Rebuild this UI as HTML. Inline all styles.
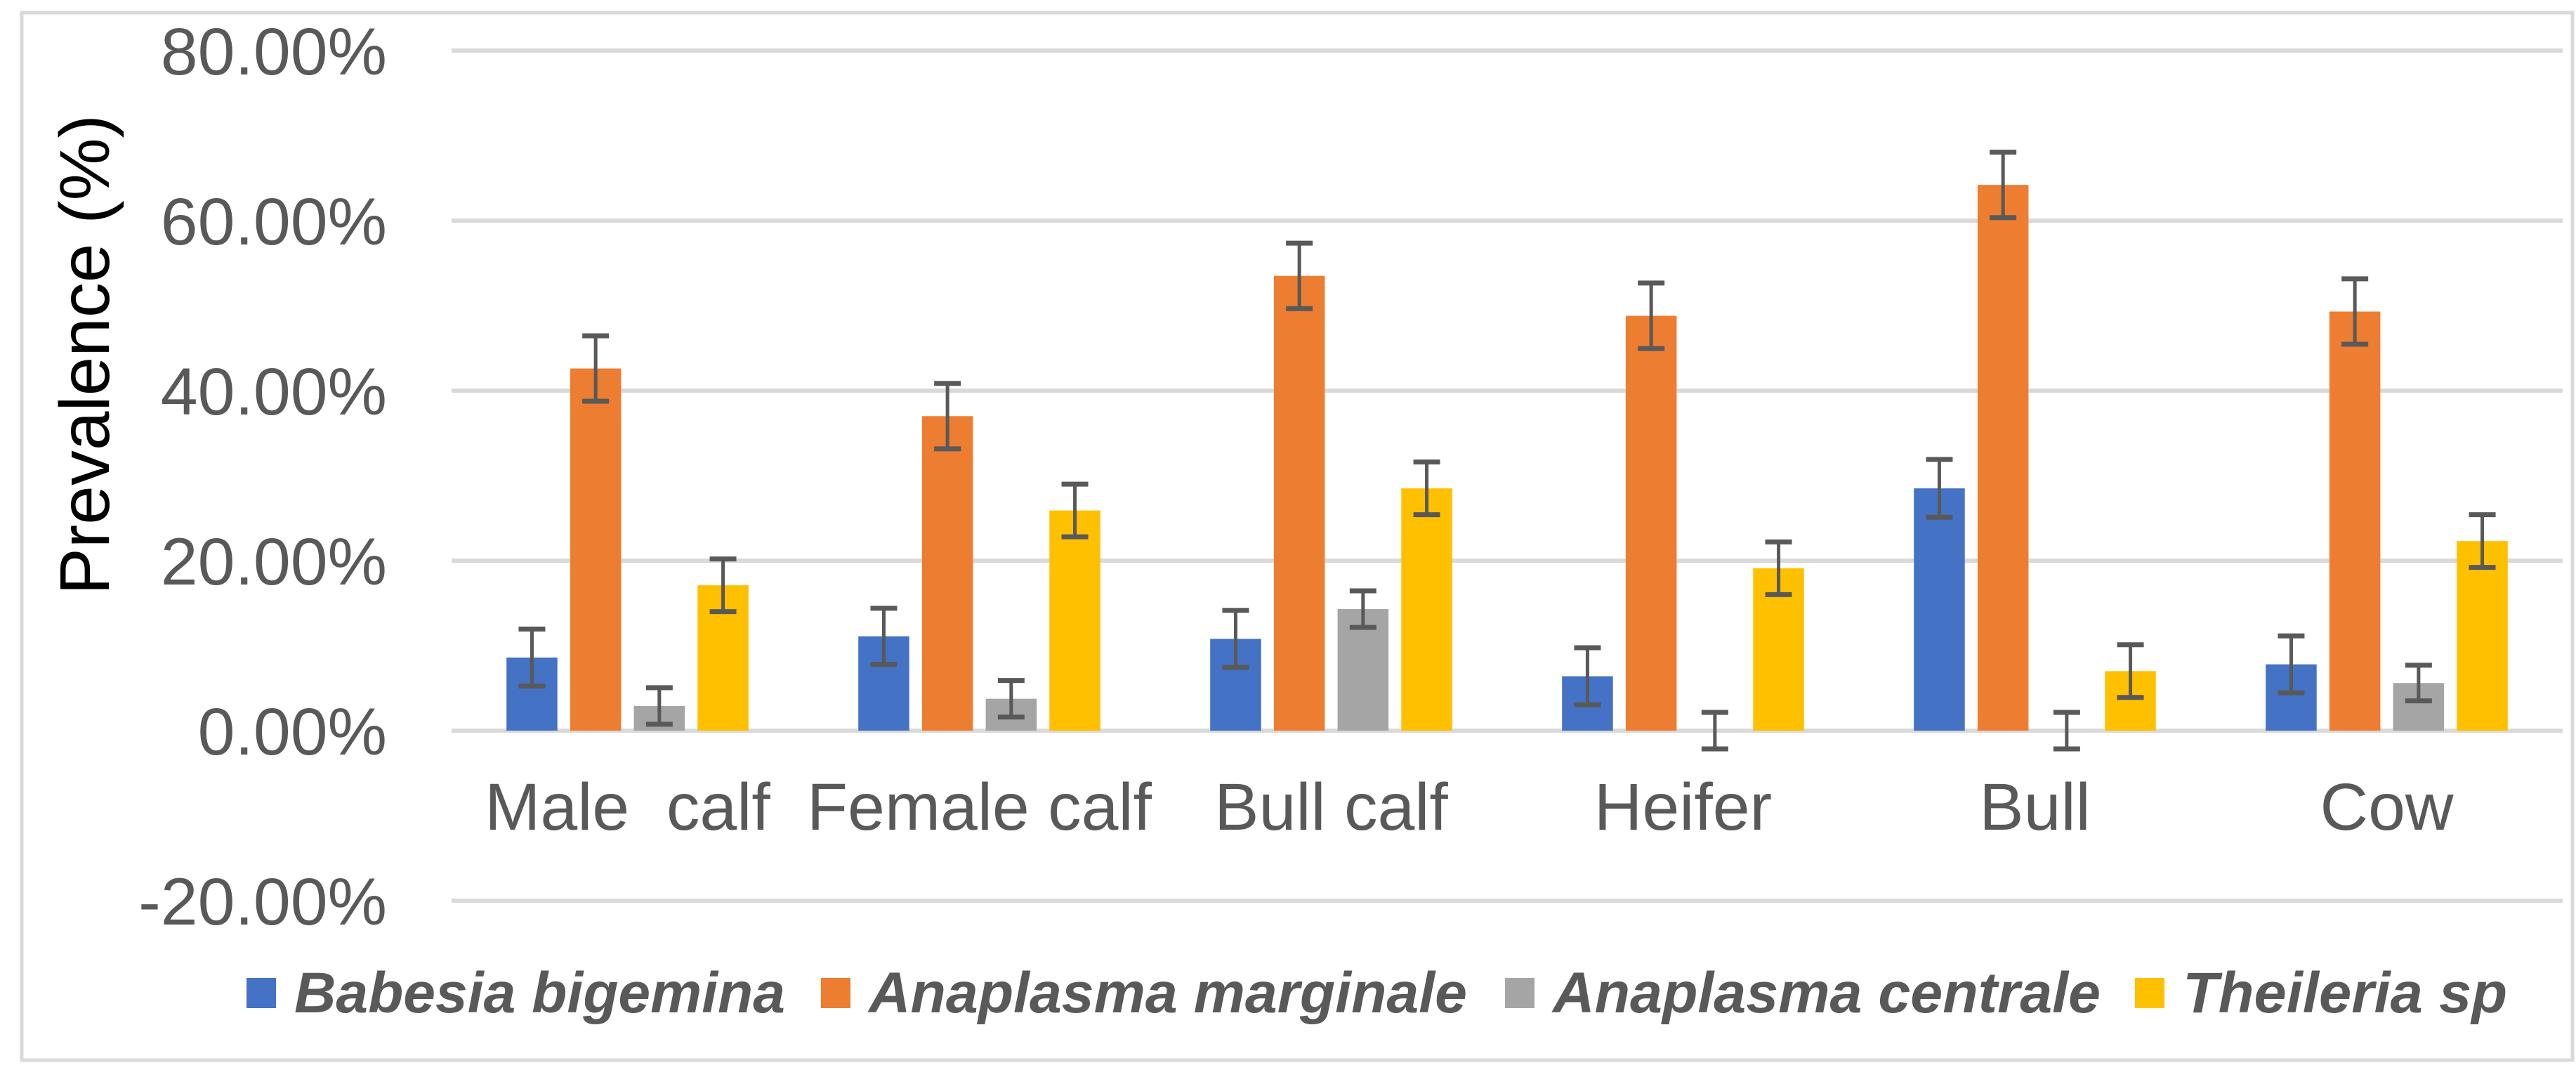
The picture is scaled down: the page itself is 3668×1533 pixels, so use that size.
<!DOCTYPE html>
<html><head><meta charset="utf-8"><style>
html,body{margin:0;padding:0;background:#fff;}
svg{display:block;}
</style></head><body>
<svg id="chart" width="3668" height="1533" viewBox="0 0 3668 1533" xmlns="http://www.w3.org/2000/svg" font-family="'Liberation Sans', Arial, sans-serif">
<rect x="31" y="18" width="3632" height="1491" fill="#fff" stroke="#d9d9d9" stroke-width="5"/>
<g id="grid"></g>
<g id="bars"></g>
<g id="errs"></g>
<g id="ylabels"></g>
<g id="xlabels"></g>
<text transform="translate(155,505) rotate(-90)" text-anchor="middle" font-size="100" fill="#000">Prevalence (%)</text>
<g id="legend"></g>
</svg>
<script>
const categories = ["Male  calf","Female calf","Bull calf","Heifer","Bull","Cow"];
const seriesNames = ["Babesia bigemina","Anaplasma marginale","Anaplasma centrale","Theileria sp"];
const babesia = [8.6, 11.1, 10.8, 6.4, 28.5, 7.8];
const marginale = [42.6, 37.0, 53.5, 48.8, 64.2, 49.3];
const centrale = [2.9, 3.75, 14.3, 0, 0, 5.6];
const theileria = [17.1, 25.9, 28.5, 19.1, 7.0, 22.3];
const errBabesia = [3.35, 3.3, 3.35, 3.35, 3.4, 3.35];
const errMarginale = [3.85, 3.85, 3.85, 3.85, 3.85, 3.85];
const errCentrale = [2.15, 2.15, 2.15, 2.15, 2.15, 2.1];
const errTheileria = [3.1, 3.1, 3.1, 3.1, 3.1, 3.1];
const yTicks = [-20, 0, 20, 40, 60, 80];
const yTickLabels = ["-20.00%","0.00%","20.00%","40.00%","60.00%","80.00%"];

const colors = ["#4472c4","#ed7d31","#a5a5a5","#ffc000"];
const series = [babesia, marginale, centrale, theileria];
const errs = [errBabesia, errMarginale, errCentrale, errTheileria];
const NS = "http://www.w3.org/2000/svg";
const plotL = 643, catW = 501;
const y0 = 1040, pxPerPct = 12.1;
function yScale(v){ return y0 - v * pxPerPct; }
function xCenter(i){ return plotL + catW * (i + 0.5); }
function mk(tag, attrs, parent){
  const e = document.createElementNS(NS, tag);
  for (const k in attrs) e.setAttribute(k, attrs[k]);
  parent.appendChild(e);
  return e;
}
const grid = document.getElementById('grid');
const ylab = document.getElementById('ylabels');
yTicks.forEach((t, i) => {
  const l = mk('line', {x1: plotL, x2: plotL + 6*catW, y1: yScale(t), y2: yScale(t), stroke: '#d9d9d9', 'stroke-width': 6}, grid);
  
  
  const tx = mk('text', {x: 551, y: yScale(t) + 34, 'text-anchor': 'end', 'font-size': 95, fill: '#595959'}, ylab);
  tx.textContent = yTickLabels[i];
  
  
});
const barsG = document.getElementById('bars');
const errG = document.getElementById('errs');
const bw = 72.5, pitch = 90.7;
series.forEach((vals, s) => {
  vals.forEach((v, i) => {
    const cx = xCenter(i) + (s - 1.5) * pitch;
    const top = Math.min(yScale(v), y0), h = Math.abs(yScale(v) - y0);
    const r = mk('rect', {x: cx - bw/2, y: top, width: bw, height: h, fill: colors[s]}, barsG);
    
    
    const e = errs[s][i];
    const yh = yScale(v + e), yl = yScale(v - e);
    const g = mk('g', {stroke: '#595959'}, errG);
    
    
    mk('line', {x1: cx, x2: cx, y1: yh, y2: yl, 'stroke-width': 5}, g);
    mk('line', {x1: cx - 19, x2: cx + 19, y1: yh, y2: yh, 'stroke-width': 7}, g);
    mk('line', {x1: cx - 19, x2: cx + 19, y1: yl, y2: yl, 'stroke-width': 7}, g);
  });
});
const xl = document.getElementById('xlabels');
categories.forEach((c, i) => {
  const t = mk('text', {x: xCenter(i), y: 1181, 'text-anchor': 'middle', 'font-size': 95, fill: '#595959', 'xml:space': 'preserve', style: 'white-space:pre'}, xl);
  t.textContent = c;
  
  
});
const leg = document.getElementById('legend');
const legSw = [351, 1169, 2143, 3040];
const legTx = [[419, 699], [1237, 852], [2211, 780], [3108, 462]];
seriesNames.forEach((n, s) => {
  const g = mk('g', {}, leg);
  
  
  mk('rect', {x: legSw[s], y: 1392, width: 42, height: 43, fill: colors[s]}, g);
  const t = mk('text', {x: legTx[s][0], y: 1441, 'font-size': 82, 'font-weight': 'bold', 'font-style': 'italic', fill: '#595959', textLength: legTx[s][1], lengthAdjust: 'spacingAndGlyphs'}, g);
  t.textContent = n;
});
</script>
</body></html>
